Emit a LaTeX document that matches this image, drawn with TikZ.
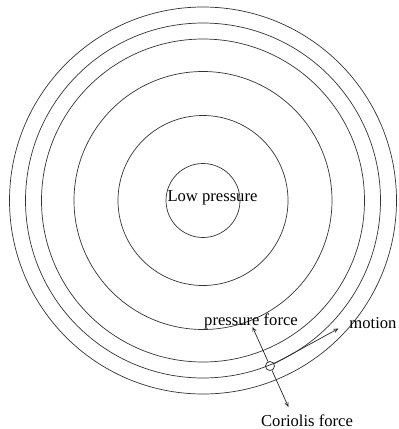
\documentclass[tikz,border=0pt]{standalone}
\usepackage{fontspec}
\setmainfont{Liberation Serif}
\usepackage{tikz}
\usetikzlibrary{arrows.meta}
\newcommand{\isobar}[1]{
\draw[isoline] (centre) circle (#1pt);
}

\begin{document}
\begin{tikzpicture}[x=1pt, y=-1pt,
    isoline/.style={line width=0.7pt, black!80},
    force/.style={line width=0.7pt, black!85, -{Straight Barb[length=4pt, width=3.5pt]}},
    label/.style={inner sep=0pt, font=\fontsize{16.6}{19}\selectfont}]
    \useasboundingbox (0,0) rectangle (399,429);
    \coordinate (centre) at (203,200.5);
    \foreach \r in {37,85,129,161.5,177.5,193.5}
    {
        \isobar{\r}
    }
    \node[label] (low) at (212.5,198) {Low pressure};
    \node[draw, circle, line width=0.7pt, black!85, minimum size=9pt, inner sep=0pt] (parcel) at (270,366) {};
    \coordinate (ptip) at (252.5,327);
    \coordinate (ctip) at (288.5,407);
    \coordinate (mtip) at (338.5,328.5);
    \draw[force] (parcel) -- (ptip);
    \draw[force] (parcel) -- (ctip);
    \draw[force] (parcel) -- (mtip);
    \node[label] (pforce) at (251,321) {pressure force};
    \node[label] (motion) at (373,323) {motion};
    \node[label] (coriolis) at (307,421) {Coriolis force};
\end{tikzpicture}
\end{document}
